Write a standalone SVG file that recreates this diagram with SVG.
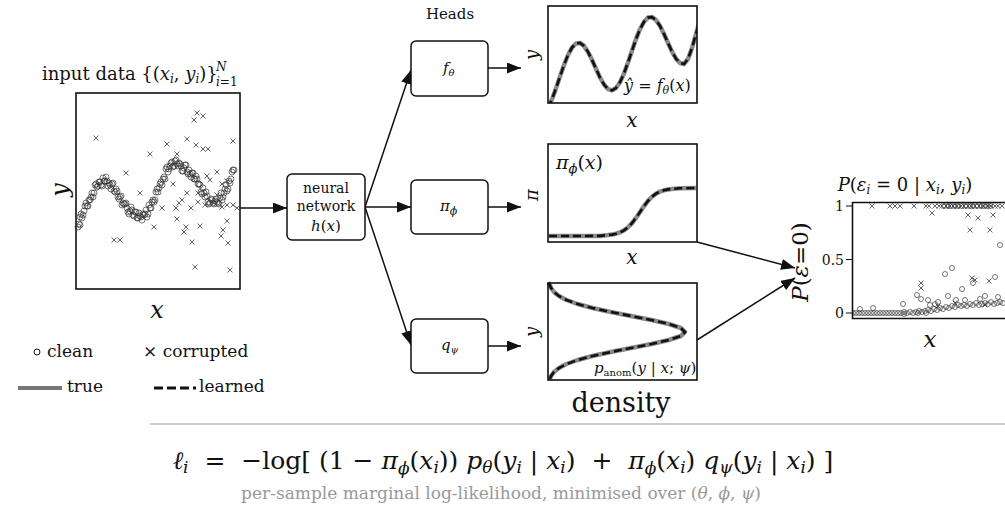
<svg xmlns="http://www.w3.org/2000/svg" width="1005" height="508" viewBox="0 0 1005 508" font-family="DejaVu Serif, serif">
<style>
.t{fill:#111}
.m{font-style:italic}
.box{fill:#fff;stroke:#111;stroke-width:1.5}
.plot{fill:none;stroke:#111;stroke-width:1.6}
.edge{stroke:#111;stroke-width:1.5;fill:none;marker-end:url(#ah)}
.true{stroke:#8a8a8a;stroke-width:4.5;fill:none;stroke-linejoin:round}
.learn{stroke:#111;stroke-width:2.6;stroke-dasharray:8 4;fill:none}
.co{fill:none;stroke:#333;stroke-width:0.9;opacity:0.75}
.cx{stroke:#555;stroke-width:0.9;fill:none}
</style>
<defs>
<marker id="ah" viewBox="0 0 14 11" refX="14" refY="5.5" markerWidth="14" markerHeight="11" markerUnits="userSpaceOnUse" orient="auto"><path d="M0,0 L14,5.5 L0,11 z" fill="#111"/></marker>
<clipPath id="c1"><rect x="548" y="6" width="149" height="97"/></clipPath>
<clipPath id="c4"><rect x="852" y="202" width="160" height="116"/></clipPath>
</defs>

<g id="connectors">
<line class="edge" x1="240" y1="208" x2="287" y2="208"/>
<line class="edge" x1="365" y1="207" x2="411" y2="70"/>
<line class="edge" x1="365" y1="207" x2="411" y2="207"/>
<line class="edge" x1="365" y1="207" x2="411" y2="345"/>
<line class="edge" x1="488" y1="68" x2="521" y2="68"/>
<line class="edge" x1="488" y1="207" x2="521" y2="207"/>
<line class="edge" x1="488" y1="346" x2="521" y2="346"/>
<line class="edge" x1="697" y1="242" x2="795" y2="268"/>
<line class="edge" x1="697" y1="340" x2="795" y2="278"/>
</g>

<g id="input-data">
<text class="t" x="42" y="80" font-size="18">input data {(<tspan class="m">x</tspan><tspan font-size="12" dy="3" class="m">i</tspan><tspan dy="-3">, </tspan><tspan class="m">y</tspan><tspan font-size="12" dy="3" class="m">i</tspan><tspan dy="-3">)}</tspan></text>
<text class="t m" x="216" y="71" font-size="12">N</text>
<text class="t" x="216" y="86" font-size="12"><tspan class="m">i</tspan>=1</text>
<rect class="plot" x="76" y="93" width="164" height="196"/>
<text class="t m" font-size="24" transform="translate(68,190) rotate(-90)" text-anchor="middle">y</text>
<text class="t m" x="157" y="318" font-size="24" text-anchor="middle">x</text>
<path class="co" d="M80,225m-3,0a3,3 0 1 0 6,0a3,3 0 1 0 -6,0M78,227m-3,0a3,3 0 1 0 6,0a3,3 0 1 0 -6,0M80,217m-3,0a3,3 0 1 0 6,0a3,3 0 1 0 -6,0M82,218m-3,0a3,3 0 1 0 6,0a3,3 0 1 0 -6,0M84,211m-3,0a3,3 0 1 0 6,0a3,3 0 1 0 -6,0M86,203m-3,0a3,3 0 1 0 6,0a3,3 0 1 0 -6,0M88,206m-3,0a3,3 0 1 0 6,0a3,3 0 1 0 -6,0M90,200m-3,0a3,3 0 1 0 6,0a3,3 0 1 0 -6,0M92,193m-3,0a3,3 0 1 0 6,0a3,3 0 1 0 -6,0M94,193m-3,0a3,3 0 1 0 6,0a3,3 0 1 0 -6,0M96,184m-3,0a3,3 0 1 0 6,0a3,3 0 1 0 -6,0M98,186m-3,0a3,3 0 1 0 6,0a3,3 0 1 0 -6,0M100,182m-3,0a3,3 0 1 0 6,0a3,3 0 1 0 -6,0M102,186m-3,0a3,3 0 1 0 6,0a3,3 0 1 0 -6,0M104,181m-3,0a3,3 0 1 0 6,0a3,3 0 1 0 -6,0M106,177m-3,0a3,3 0 1 0 6,0a3,3 0 1 0 -6,0M108,186m-3,0a3,3 0 1 0 6,0a3,3 0 1 0 -6,0M110,185m-3,0a3,3 0 1 0 6,0a3,3 0 1 0 -6,0M112,184m-3,0a3,3 0 1 0 6,0a3,3 0 1 0 -6,0M114,191m-3,0a3,3 0 1 0 6,0a3,3 0 1 0 -6,0M116,189m-3,0a3,3 0 1 0 6,0a3,3 0 1 0 -6,0M118,197m-3,0a3,3 0 1 0 6,0a3,3 0 1 0 -6,0M120,197m-3,0a3,3 0 1 0 6,0a3,3 0 1 0 -6,0M122,205m-3,0a3,3 0 1 0 6,0a3,3 0 1 0 -6,0M124,204m-3,0a3,3 0 1 0 6,0a3,3 0 1 0 -6,0M126,203m-3,0a3,3 0 1 0 6,0a3,3 0 1 0 -6,0M128,212m-3,0a3,3 0 1 0 6,0a3,3 0 1 0 -6,0M130,211m-3,0a3,3 0 1 0 6,0a3,3 0 1 0 -6,0M132,210m-3,0a3,3 0 1 0 6,0a3,3 0 1 0 -6,0M134,216m-3,0a3,3 0 1 0 6,0a3,3 0 1 0 -6,0M136,212m-3,0a3,3 0 1 0 6,0a3,3 0 1 0 -6,0M138,218m-3,0a3,3 0 1 0 6,0a3,3 0 1 0 -6,0M140,216m-3,0a3,3 0 1 0 6,0a3,3 0 1 0 -6,0M142,220m-3,0a3,3 0 1 0 6,0a3,3 0 1 0 -6,0M144,215m-3,0a3,3 0 1 0 6,0a3,3 0 1 0 -6,0M146,210m-3,0a3,3 0 1 0 6,0a3,3 0 1 0 -6,0M148,214m-3,0a3,3 0 1 0 6,0a3,3 0 1 0 -6,0M150,208m-3,0a3,3 0 1 0 6,0a3,3 0 1 0 -6,0M152,202m-3,0a3,3 0 1 0 6,0a3,3 0 1 0 -6,0M154,202m-3,0a3,3 0 1 0 6,0a3,3 0 1 0 -6,0M156,192m-3,0a3,3 0 1 0 6,0a3,3 0 1 0 -6,0M158,192m-3,0a3,3 0 1 0 6,0a3,3 0 1 0 -6,0M160,184m-3,0a3,3 0 1 0 6,0a3,3 0 1 0 -6,0M162,185m-3,0a3,3 0 1 0 6,0a3,3 0 1 0 -6,0M164,177m-3,0a3,3 0 1 0 6,0a3,3 0 1 0 -6,0M166,169m-3,0a3,3 0 1 0 6,0a3,3 0 1 0 -6,0M168,172m-3,0a3,3 0 1 0 6,0a3,3 0 1 0 -6,0M170,166m-3,0a3,3 0 1 0 6,0a3,3 0 1 0 -6,0M172,162m-3,0a3,3 0 1 0 6,0a3,3 0 1 0 -6,0M174,166m-3,0a3,3 0 1 0 6,0a3,3 0 1 0 -6,0M176,160m-3,0a3,3 0 1 0 6,0a3,3 0 1 0 -6,0M178,166m-3,0a3,3 0 1 0 6,0a3,3 0 1 0 -6,0M180,164m-3,0a3,3 0 1 0 6,0a3,3 0 1 0 -6,0M182,171m-3,0a3,3 0 1 0 6,0a3,3 0 1 0 -6,0M184,168m-3,0a3,3 0 1 0 6,0a3,3 0 1 0 -6,0M186,165m-3,0a3,3 0 1 0 6,0a3,3 0 1 0 -6,0M188,174m-3,0a3,3 0 1 0 6,0a3,3 0 1 0 -6,0M190,174m-3,0a3,3 0 1 0 6,0a3,3 0 1 0 -6,0M192,173m-3,0a3,3 0 1 0 6,0a3,3 0 1 0 -6,0M194,179m-3,0a3,3 0 1 0 6,0a3,3 0 1 0 -6,0M196,176m-3,0a3,3 0 1 0 6,0a3,3 0 1 0 -6,0M198,184m-3,0a3,3 0 1 0 6,0a3,3 0 1 0 -6,0M200,185m-3,0a3,3 0 1 0 6,0a3,3 0 1 0 -6,0M202,194m-3,0a3,3 0 1 0 6,0a3,3 0 1 0 -6,0M204,193m-3,0a3,3 0 1 0 6,0a3,3 0 1 0 -6,0M206,192m-3,0a3,3 0 1 0 6,0a3,3 0 1 0 -6,0M208,202m-3,0a3,3 0 1 0 6,0a3,3 0 1 0 -6,0M210,203m-3,0a3,3 0 1 0 6,0a3,3 0 1 0 -6,0M212,200m-3,0a3,3 0 1 0 6,0a3,3 0 1 0 -6,0M214,204m-3,0a3,3 0 1 0 6,0a3,3 0 1 0 -6,0M216,199m-3,0a3,3 0 1 0 6,0a3,3 0 1 0 -6,0M218,203m-3,0a3,3 0 1 0 6,0a3,3 0 1 0 -6,0M220,198m-3,0a3,3 0 1 0 6,0a3,3 0 1 0 -6,0M222,200m-3,0a3,3 0 1 0 6,0a3,3 0 1 0 -6,0M224,193m-3,0a3,3 0 1 0 6,0a3,3 0 1 0 -6,0M226,185m-3,0a3,3 0 1 0 6,0a3,3 0 1 0 -6,0M228,189m-3,0a3,3 0 1 0 6,0a3,3 0 1 0 -6,0M230,183m-3,0a3,3 0 1 0 6,0a3,3 0 1 0 -6,0M232,172m-3,0a3,3 0 1 0 6,0a3,3 0 1 0 -6,0M234,170m-3,0a3,3 0 1 0 6,0a3,3 0 1 0 -6,0M79,224m-3,0a3,3 0 1 0 6,0a3,3 0 1 0 -6,0M81,214m-3,0a3,3 0 1 0 6,0a3,3 0 1 0 -6,0M83,215m-3,0a3,3 0 1 0 6,0a3,3 0 1 0 -6,0M85,206m-3,0a3,3 0 1 0 6,0a3,3 0 1 0 -6,0M87,206m-3,0a3,3 0 1 0 6,0a3,3 0 1 0 -6,0M89,200m-3,0a3,3 0 1 0 6,0a3,3 0 1 0 -6,0M91,197m-3,0a3,3 0 1 0 6,0a3,3 0 1 0 -6,0M93,197m-3,0a3,3 0 1 0 6,0a3,3 0 1 0 -6,0M95,185m-3,0a3,3 0 1 0 6,0a3,3 0 1 0 -6,0M97,187m-3,0a3,3 0 1 0 6,0a3,3 0 1 0 -6,0M99,182m-3,0a3,3 0 1 0 6,0a3,3 0 1 0 -6,0M101,185m-3,0a3,3 0 1 0 6,0a3,3 0 1 0 -6,0M103,178m-3,0a3,3 0 1 0 6,0a3,3 0 1 0 -6,0M105,181m-3,0a3,3 0 1 0 6,0a3,3 0 1 0 -6,0M107,181m-3,0a3,3 0 1 0 6,0a3,3 0 1 0 -6,0M109,183m-3,0a3,3 0 1 0 6,0a3,3 0 1 0 -6,0M111,189m-3,0a3,3 0 1 0 6,0a3,3 0 1 0 -6,0M113,183m-3,0a3,3 0 1 0 6,0a3,3 0 1 0 -6,0M115,192m-3,0a3,3 0 1 0 6,0a3,3 0 1 0 -6,0M117,191m-3,0a3,3 0 1 0 6,0a3,3 0 1 0 -6,0M119,199m-3,0a3,3 0 1 0 6,0a3,3 0 1 0 -6,0M121,196m-3,0a3,3 0 1 0 6,0a3,3 0 1 0 -6,0M123,203m-3,0a3,3 0 1 0 6,0a3,3 0 1 0 -6,0M125,204m-3,0a3,3 0 1 0 6,0a3,3 0 1 0 -6,0M127,208m-3,0a3,3 0 1 0 6,0a3,3 0 1 0 -6,0M129,214m-3,0a3,3 0 1 0 6,0a3,3 0 1 0 -6,0M131,207m-3,0a3,3 0 1 0 6,0a3,3 0 1 0 -6,0M133,215m-3,0a3,3 0 1 0 6,0a3,3 0 1 0 -6,0M135,212m-3,0a3,3 0 1 0 6,0a3,3 0 1 0 -6,0M137,218m-3,0a3,3 0 1 0 6,0a3,3 0 1 0 -6,0M139,213m-3,0a3,3 0 1 0 6,0a3,3 0 1 0 -6,0M141,217m-3,0a3,3 0 1 0 6,0a3,3 0 1 0 -6,0M143,214m-3,0a3,3 0 1 0 6,0a3,3 0 1 0 -6,0M145,214m-3,0a3,3 0 1 0 6,0a3,3 0 1 0 -6,0M147,217m-3,0a3,3 0 1 0 6,0a3,3 0 1 0 -6,0M149,205m-3,0a3,3 0 1 0 6,0a3,3 0 1 0 -6,0M151,208m-3,0a3,3 0 1 0 6,0a3,3 0 1 0 -6,0M153,200m-3,0a3,3 0 1 0 6,0a3,3 0 1 0 -6,0M155,200m-3,0a3,3 0 1 0 6,0a3,3 0 1 0 -6,0M157,189m-3,0a3,3 0 1 0 6,0a3,3 0 1 0 -6,0M159,188m-3,0a3,3 0 1 0 6,0a3,3 0 1 0 -6,0M161,182m-3,0a3,3 0 1 0 6,0a3,3 0 1 0 -6,0M163,179m-3,0a3,3 0 1 0 6,0a3,3 0 1 0 -6,0M165,179m-3,0a3,3 0 1 0 6,0a3,3 0 1 0 -6,0M167,167m-3,0a3,3 0 1 0 6,0a3,3 0 1 0 -6,0M169,169m-3,0a3,3 0 1 0 6,0a3,3 0 1 0 -6,0M171,163m-3,0a3,3 0 1 0 6,0a3,3 0 1 0 -6,0M173,167m-3,0a3,3 0 1 0 6,0a3,3 0 1 0 -6,0M175,161m-3,0a3,3 0 1 0 6,0a3,3 0 1 0 -6,0M177,164m-3,0a3,3 0 1 0 6,0a3,3 0 1 0 -6,0M179,163m-3,0a3,3 0 1 0 6,0a3,3 0 1 0 -6,0M181,166m-3,0a3,3 0 1 0 6,0a3,3 0 1 0 -6,0M183,171m-3,0a3,3 0 1 0 6,0a3,3 0 1 0 -6,0M185,165m-3,0a3,3 0 1 0 6,0a3,3 0 1 0 -6,0M187,172m-3,0a3,3 0 1 0 6,0a3,3 0 1 0 -6,0M189,170m-3,0a3,3 0 1 0 6,0a3,3 0 1 0 -6,0M191,177m-3,0a3,3 0 1 0 6,0a3,3 0 1 0 -6,0M193,173m-3,0a3,3 0 1 0 6,0a3,3 0 1 0 -6,0M195,179m-3,0a3,3 0 1 0 6,0a3,3 0 1 0 -6,0M197,179m-3,0a3,3 0 1 0 6,0a3,3 0 1 0 -6,0M199,184m-3,0a3,3 0 1 0 6,0a3,3 0 1 0 -6,0M201,192m-3,0a3,3 0 1 0 6,0a3,3 0 1 0 -6,0M203,188m-3,0a3,3 0 1 0 6,0a3,3 0 1 0 -6,0M205,197m-3,0a3,3 0 1 0 6,0a3,3 0 1 0 -6,0M207,196m-3,0a3,3 0 1 0 6,0a3,3 0 1 0 -6,0M209,204m-3,0a3,3 0 1 0 6,0a3,3 0 1 0 -6,0M211,199m-3,0a3,3 0 1 0 6,0a3,3 0 1 0 -6,0M213,203m-3,0a3,3 0 1 0 6,0a3,3 0 1 0 -6,0M215,201m-3,0a3,3 0 1 0 6,0a3,3 0 1 0 -6,0M217,202m-3,0a3,3 0 1 0 6,0a3,3 0 1 0 -6,0M219,204m-3,0a3,3 0 1 0 6,0a3,3 0 1 0 -6,0M221,193m-3,0a3,3 0 1 0 6,0a3,3 0 1 0 -6,0M223,197m-3,0a3,3 0 1 0 6,0a3,3 0 1 0 -6,0M225,189m-3,0a3,3 0 1 0 6,0a3,3 0 1 0 -6,0M227,191m-3,0a3,3 0 1 0 6,0a3,3 0 1 0 -6,0M229,181m-3,0a3,3 0 1 0 6,0a3,3 0 1 0 -6,0M231,179m-3,0a3,3 0 1 0 6,0a3,3 0 1 0 -6,0M233,170m-3,0a3,3 0 1 0 6,0a3,3 0 1 0 -6,0"/>
<path class="cx" d="M93.5,135.5l5,5m0,-5l-5,5M194.5,110.5l5,5m0,-5l-5,5M191.5,117.5l5,5m0,-5l-5,5M200.5,113.5l5,5m0,-5l-5,5M164.5,141.5l5,5m0,-5l-5,5M147.5,151.5l5,5m0,-5l-5,5M184.5,136.5l5,5m0,-5l-5,5M193.5,142.5l5,5m0,-5l-5,5M200.5,146.5l5,5m0,-5l-5,5M205.5,146.5l5,5m0,-5l-5,5M230.5,138.5l5,5m0,-5l-5,5M174.5,151.5l5,5m0,-5l-5,5M123.5,170.5l5,5m0,-5l-5,5M214.5,169.5l5,5m0,-5l-5,5M204.5,173.5l5,5m0,-5l-5,5M207.5,177.5l5,5m0,-5l-5,5M224.5,178.5l5,5m0,-5l-5,5M219.5,181.5l5,5m0,-5l-5,5M170.5,181.5l5,5m0,-5l-5,5M137.5,190.5l5,5m0,-5l-5,5M184.5,190.5l5,5m0,-5l-5,5M195.5,190.5l5,5m0,-5l-5,5M179.5,197.5l5,5m0,-5l-5,5M176.5,200.5l5,5m0,-5l-5,5M195.5,199.5l5,5m0,-5l-5,5M202.5,202.5l5,5m0,-5l-5,5M214.5,192.5l5,5m0,-5l-5,5M159.5,205.5l5,5m0,-5l-5,5M173.5,205.5l5,5m0,-5l-5,5M188.5,205.5l5,5m0,-5l-5,5M224.5,202.5l5,5m0,-5l-5,5M230.5,202.5l5,5m0,-5l-5,5M234.5,205.5l5,5m0,-5l-5,5M219.5,204.5l5,5m0,-5l-5,5M174.5,216.5l5,5m0,-5l-5,5M183.5,224.5l5,5m0,-5l-5,5M181.5,229.5l5,5m0,-5l-5,5M197.5,223.5l5,5m0,-5l-5,5M224.5,218.5l5,5m0,-5l-5,5M220.5,227.5l5,5m0,-5l-5,5M218.5,233.5l5,5m0,-5l-5,5M151.5,224.5l5,5m0,-5l-5,5M189.5,239.5l5,5m0,-5l-5,5M225.5,240.5l5,5m0,-5l-5,5M111.5,237.5l5,5m0,-5l-5,5M117.5,237.5l5,5m0,-5l-5,5M192.5,264.5l5,5m0,-5l-5,5M227.5,267.5l5,5m0,-5l-5,5"/>
</g>

<g id="legend">
<circle cx="37" cy="352" r="3" fill="none" stroke="#111" stroke-width="1"/>
<text class="t" x="47" y="357" font-size="17">clean</text>
<text class="t" x="143" y="357" font-size="17">× corrupted</text>
<line x1="18" y1="388" x2="62" y2="388" stroke="#777" stroke-width="4"/>
<text class="t" x="67" y="392" font-size="17">true</text>
<line x1="154" y1="388" x2="196" y2="388" stroke="#111" stroke-width="3" stroke-dasharray="9 4"/>
<text class="t" x="199" y="392" font-size="17">learned</text>
</g>

<g id="network">
<rect class="box" x="287" y="174" width="78" height="66" rx="5"/>
<text class="t" x="326" y="193" font-size="14" text-anchor="middle">neural</text>
<text class="t" x="326" y="211" font-size="14" text-anchor="middle">network</text>
<text class="t" x="326" y="231" font-size="15" text-anchor="middle"><tspan class="m">h</tspan>(<tspan class="m">x</tspan>)</text>
</g>

<text class="t" x="450" y="19" font-size="15" text-anchor="middle">Heads</text>

<g id="head-f">
<rect class="box" x="411" y="41" width="77" height="55" rx="5"/>
<text class="t m" x="443" y="73" font-size="15">f<tspan font-size="10" dy="3">θ</tspan></text>
</g>
<g id="head-pi">
<rect class="box" x="411" y="180" width="77" height="54" rx="5"/>
<text class="t m" x="440" y="211" font-size="15">π<tspan font-size="11" dy="4">ϕ</tspan></text>
</g>
<g id="head-q">
<rect class="box" x="411" y="319" width="77" height="54" rx="5"/>
<text class="t m" x="441" y="350" font-size="15">q<tspan font-size="10" dy="3">ψ</tspan></text>
</g>

<g id="plot-f">
<g clip-path="url(#c1)">
<path class="true" d="M548,108 L552,99.2 L556,88.4 L560,76.5 L564,65 L568,55 L572,47.6 L576,43.5 L580,42.9 L584,45.9 L588,51.9 L592,59.8 L596,68.8 L600,77.5 L604,84.5 L608,89.1 L612,90.4 L616,88 L620,82.2 L624,73.4 L628,62.5 L632,50.7 L636,39.1 L640,29.2 L644,21.8 L648,17.6 L652,17.1 L656,20.1 L660,26 L664,34 L668,43 L672,51.6 L676,58.7 L680,63 L684,64 L688,59 L692,48 L696,34 L700,20"/>
<path class="learn" d="M548,108 L552,99.2 L556,88.4 L560,76.5 L564,65 L568,55 L572,47.6 L576,43.5 L580,42.9 L584,45.9 L588,51.9 L592,59.8 L596,68.8 L600,77.5 L604,84.5 L608,89.1 L612,90.4 L616,88 L620,82.2 L624,73.4 L628,62.5 L632,50.7 L636,39.1 L640,29.2 L644,21.8 L648,17.6 L652,17.1 L656,20.1 L660,26 L664,34 L668,43 L672,51.6 L676,58.7 L680,63 L684,64 L688,59 L692,48 L696,34 L700,20"/>
</g>
<rect class="plot" x="548" y="6" width="149" height="97"/>
<text class="t m" font-size="18" transform="translate(538,55) rotate(-90)" text-anchor="middle">y</text>
<text class="t m" x="632" y="127" font-size="20" text-anchor="middle">x</text>
<text class="t m" x="624" y="91" font-size="16">ŷ<tspan font-style="normal"> = </tspan>f<tspan font-size="11" dy="3">θ</tspan><tspan font-style="normal" dy="-3">(</tspan>x<tspan font-style="normal">)</tspan></text>
</g>

<g id="plot-pi">
<path class="true" d="M549,236 L600,235.9 L608,235.1 L612,234.6 L616,233.7 L620,232.4 L624,230.3 L628,227.3 L632,223.1 L636,217.9 L640,212 L644,206.1 L648,200.9 L652,196.7 L656,193.7 L660,191.6 L664,190.3 L668,189.4 L672,188.9 L680,188.3 L696,188"/>
<path class="learn" d="M549,236 L600,235.9 L608,235.1 L612,234.6 L616,233.7 L620,232.4 L624,230.3 L628,227.3 L632,223.1 L636,217.9 L640,212 L644,206.1 L648,200.9 L652,196.7 L656,193.7 L660,191.6 L664,190.3 L668,189.4 L672,188.9 L680,188.3 L696,188"/>
<rect class="plot" x="548" y="144" width="149" height="98"/>
<text class="t m" font-size="18" transform="translate(538,195) rotate(-90)" text-anchor="middle">π</text>
<text class="t m" x="632" y="264" font-size="20" text-anchor="middle">x</text>
<text class="t m" x="556" y="169" font-size="19">π<tspan font-size="13" dy="4">ϕ</tspan><tspan font-style="normal" dy="-4">(</tspan>x<tspan font-style="normal">)</tspan></text>
</g>

<g id="plot-q">
<path class="true" d="M548,283 L549.3,284 L551.1,288 L554,292 L558.9,296 L566.5,300 L577.6,304 L592.5,308 L610.7,312 L631.1,316 L651.4,320 L668.9,324 L680.8,328 L685,332 L680.8,336 L668.9,340 L651.4,344 L631.1,348 L610.7,352 L592.5,356 L577.6,360 L566.5,364 L558.9,368 L554,372 L551.1,376 L549.3,380"/>
<path class="learn" d="M548,283 L549.3,284 L551.1,288 L554,292 L558.9,296 L566.5,300 L577.6,304 L592.5,308 L610.7,312 L631.1,316 L651.4,320 L668.9,324 L680.8,328 L685,332 L680.8,336 L668.9,340 L651.4,344 L631.1,348 L610.7,352 L592.5,356 L577.6,360 L566.5,364 L558.9,368 L554,372 L551.1,376 L549.3,380"/>
<rect class="plot" x="548" y="283" width="149" height="97"/>
<text class="t m" font-size="18" transform="translate(538,332) rotate(-90)" text-anchor="middle">y</text>
<text class="t" x="621" y="412" font-size="27" text-anchor="middle">density</text>
<text class="t m" x="594" y="373" font-size="15">p<tspan font-style="normal" font-size="10" dy="3">anom</tspan><tspan font-style="normal" dy="-3">(</tspan>y<tspan font-style="normal"> | </tspan>x<tspan font-style="normal">; </tspan>ψ<tspan font-style="normal">)</tspan></text>
</g>

<g id="plot-post">
<text class="t" x="905" y="191" font-size="18" text-anchor="middle"><tspan class="m">P</tspan>(<tspan class="m">ε</tspan><tspan class="m" font-size="12" dy="3">i</tspan><tspan dy="-3"> = 0 | </tspan><tspan class="m">x</tspan><tspan class="m" font-size="12" dy="3">i</tspan><tspan dy="-3">, </tspan><tspan class="m">y</tspan><tspan class="m" font-size="12" dy="3">i</tspan><tspan dy="-3">)</tspan></text>
<text class="t" font-size="23" transform="translate(808,262) rotate(-90)" text-anchor="middle"><tspan class="m">P</tspan>(<tspan class="m">ε</tspan>=0)</text>
<text class="t m" x="930" y="347" font-size="23" text-anchor="middle">x</text>
<text class="t" x="844" y="211" font-size="14" text-anchor="end">1</text>
<text class="t" x="844" y="265" font-size="14" text-anchor="end">0.5</text>
<text class="t" x="844" y="318" font-size="14" text-anchor="end">0</text>
<path d="M846,206H852M846,259.5H852M846,313H852" stroke="#111" stroke-width="1.2"/>
<g clip-path="url(#c4)">
<path class="cx" d="M869.5,203.5l5,5m0,-5l-5,5M887.5,203.5l5,5m0,-5l-5,5M892.5,203.5l5,5m0,-5l-5,5M897.5,203.5l5,5m0,-5l-5,5M911.5,203.5l5,5m0,-5l-5,5M923.5,203.5l5,5m0,-5l-5,5M926.5,203.5l5,5m0,-5l-5,5M932.5,203.5l5,5m0,-5l-5,5M936.5,203.5l5,5m0,-5l-5,5M939.5,203.5l5,5m0,-5l-5,5M943.5,203.5l5,5m0,-5l-5,5M947.5,203.5l5,5m0,-5l-5,5M950.5,203.5l5,5m0,-5l-5,5M954.5,203.5l5,5m0,-5l-5,5M958.5,203.5l5,5m0,-5l-5,5M961.5,203.5l5,5m0,-5l-5,5M965.5,203.5l5,5m0,-5l-5,5M968.5,203.5l5,5m0,-5l-5,5M972.5,203.5l5,5m0,-5l-5,5M976.5,203.5l5,5m0,-5l-5,5M980.5,203.5l5,5m0,-5l-5,5M985.5,203.5l5,5m0,-5l-5,5M988.5,203.5l5,5m0,-5l-5,5M992.5,203.5l5,5m0,-5l-5,5M995.5,203.5l5,5m0,-5l-5,5M999.5,203.5l5,5m0,-5l-5,5M929.5,210.5l5,5m0,-5l-5,5M965.5,212.5l5,5m0,-5l-5,5M975.5,215.5l5,5m0,-5l-5,5M990.5,212.5l5,5m0,-5l-5,5M967.5,227.5l5,5m0,-5l-5,5M987.5,227.5l5,5m0,-5l-5,5M918.5,285.5l5,5m0,-5l-5,5M918.5,280.5l5,5m0,-5l-5,5M969.5,275.5l5,5m0,-5l-5,5M972.5,277.5l5,5m0,-5l-5,5M986.5,278.5l5,5m0,-5l-5,5M935.5,303.5l5,5m0,-5l-5,5M952.5,300.5l5,5m0,-5l-5,5M982.5,302.5l5,5m0,-5l-5,5"/>
<path class="co" d="M944,206m-2.5,0a2.5,2.5 0 1 0 5,0a2.5,2.5 0 1 0 -5,0M948,206m-2.5,0a2.5,2.5 0 1 0 5,0a2.5,2.5 0 1 0 -5,0M951,206m-2.5,0a2.5,2.5 0 1 0 5,0a2.5,2.5 0 1 0 -5,0M955,206m-2.5,0a2.5,2.5 0 1 0 5,0a2.5,2.5 0 1 0 -5,0M958,206m-2.5,0a2.5,2.5 0 1 0 5,0a2.5,2.5 0 1 0 -5,0M962,206m-2.5,0a2.5,2.5 0 1 0 5,0a2.5,2.5 0 1 0 -5,0M966,206m-2.5,0a2.5,2.5 0 1 0 5,0a2.5,2.5 0 1 0 -5,0M970,206m-2.5,0a2.5,2.5 0 1 0 5,0a2.5,2.5 0 1 0 -5,0M973,206m-2.5,0a2.5,2.5 0 1 0 5,0a2.5,2.5 0 1 0 -5,0M977,206m-2.5,0a2.5,2.5 0 1 0 5,0a2.5,2.5 0 1 0 -5,0M981,206m-2.5,0a2.5,2.5 0 1 0 5,0a2.5,2.5 0 1 0 -5,0M984,206m-2.5,0a2.5,2.5 0 1 0 5,0a2.5,2.5 0 1 0 -5,0M987,206m-2.5,0a2.5,2.5 0 1 0 5,0a2.5,2.5 0 1 0 -5,0M990,206m-2.5,0a2.5,2.5 0 1 0 5,0a2.5,2.5 0 1 0 -5,0M853,313m-2.5,0a2.5,2.5 0 1 0 5,0a2.5,2.5 0 1 0 -5,0M856,313m-2.5,0a2.5,2.5 0 1 0 5,0a2.5,2.5 0 1 0 -5,0M859,313m-2.5,0a2.5,2.5 0 1 0 5,0a2.5,2.5 0 1 0 -5,0M862,313m-2.5,0a2.5,2.5 0 1 0 5,0a2.5,2.5 0 1 0 -5,0M865,313m-2.5,0a2.5,2.5 0 1 0 5,0a2.5,2.5 0 1 0 -5,0M868,313m-2.5,0a2.5,2.5 0 1 0 5,0a2.5,2.5 0 1 0 -5,0M871,313m-2.5,0a2.5,2.5 0 1 0 5,0a2.5,2.5 0 1 0 -5,0M874,313m-2.5,0a2.5,2.5 0 1 0 5,0a2.5,2.5 0 1 0 -5,0M877,313m-2.5,0a2.5,2.5 0 1 0 5,0a2.5,2.5 0 1 0 -5,0M880,313m-2.5,0a2.5,2.5 0 1 0 5,0a2.5,2.5 0 1 0 -5,0M883,313m-2.5,0a2.5,2.5 0 1 0 5,0a2.5,2.5 0 1 0 -5,0M886,313m-2.5,0a2.5,2.5 0 1 0 5,0a2.5,2.5 0 1 0 -5,0M889,313m-2.5,0a2.5,2.5 0 1 0 5,0a2.5,2.5 0 1 0 -5,0M892,313m-2.5,0a2.5,2.5 0 1 0 5,0a2.5,2.5 0 1 0 -5,0M895,313m-2.5,0a2.5,2.5 0 1 0 5,0a2.5,2.5 0 1 0 -5,0M898,313m-2.5,0a2.5,2.5 0 1 0 5,0a2.5,2.5 0 1 0 -5,0M901,313m-2.5,0a2.5,2.5 0 1 0 5,0a2.5,2.5 0 1 0 -5,0M904,312m-2.5,0a2.5,2.5 0 1 0 5,0a2.5,2.5 0 1 0 -5,0M907,313m-2.5,0a2.5,2.5 0 1 0 5,0a2.5,2.5 0 1 0 -5,0M910,312m-2.5,0a2.5,2.5 0 1 0 5,0a2.5,2.5 0 1 0 -5,0M913,313m-2.5,0a2.5,2.5 0 1 0 5,0a2.5,2.5 0 1 0 -5,0M916,312m-2.5,0a2.5,2.5 0 1 0 5,0a2.5,2.5 0 1 0 -5,0M919,311m-2.5,0a2.5,2.5 0 1 0 5,0a2.5,2.5 0 1 0 -5,0M922,312m-2.5,0a2.5,2.5 0 1 0 5,0a2.5,2.5 0 1 0 -5,0M925,311m-2.5,0a2.5,2.5 0 1 0 5,0a2.5,2.5 0 1 0 -5,0M928,310m-2.5,0a2.5,2.5 0 1 0 5,0a2.5,2.5 0 1 0 -5,0M931,311m-2.5,0a2.5,2.5 0 1 0 5,0a2.5,2.5 0 1 0 -5,0M934,309m-2.5,0a2.5,2.5 0 1 0 5,0a2.5,2.5 0 1 0 -5,0M937,310m-2.5,0a2.5,2.5 0 1 0 5,0a2.5,2.5 0 1 0 -5,0M940,308m-2.5,0a2.5,2.5 0 1 0 5,0a2.5,2.5 0 1 0 -5,0M943,309m-2.5,0a2.5,2.5 0 1 0 5,0a2.5,2.5 0 1 0 -5,0M946,307m-2.5,0a2.5,2.5 0 1 0 5,0a2.5,2.5 0 1 0 -5,0M949,308m-2.5,0a2.5,2.5 0 1 0 5,0a2.5,2.5 0 1 0 -5,0M952,306m-2.5,0a2.5,2.5 0 1 0 5,0a2.5,2.5 0 1 0 -5,0M955,307m-2.5,0a2.5,2.5 0 1 0 5,0a2.5,2.5 0 1 0 -5,0M958,305m-2.5,0a2.5,2.5 0 1 0 5,0a2.5,2.5 0 1 0 -5,0M961,306m-2.5,0a2.5,2.5 0 1 0 5,0a2.5,2.5 0 1 0 -5,0M964,305m-2.5,0a2.5,2.5 0 1 0 5,0a2.5,2.5 0 1 0 -5,0M967,306m-2.5,0a2.5,2.5 0 1 0 5,0a2.5,2.5 0 1 0 -5,0M970,304m-2.5,0a2.5,2.5 0 1 0 5,0a2.5,2.5 0 1 0 -5,0M973,305m-2.5,0a2.5,2.5 0 1 0 5,0a2.5,2.5 0 1 0 -5,0M976,303m-2.5,0a2.5,2.5 0 1 0 5,0a2.5,2.5 0 1 0 -5,0M979,305m-2.5,0a2.5,2.5 0 1 0 5,0a2.5,2.5 0 1 0 -5,0M982,304m-2.5,0a2.5,2.5 0 1 0 5,0a2.5,2.5 0 1 0 -5,0M985,303m-2.5,0a2.5,2.5 0 1 0 5,0a2.5,2.5 0 1 0 -5,0M988,304m-2.5,0a2.5,2.5 0 1 0 5,0a2.5,2.5 0 1 0 -5,0M991,302m-2.5,0a2.5,2.5 0 1 0 5,0a2.5,2.5 0 1 0 -5,0M994,304m-2.5,0a2.5,2.5 0 1 0 5,0a2.5,2.5 0 1 0 -5,0M997,303m-2.5,0a2.5,2.5 0 1 0 5,0a2.5,2.5 0 1 0 -5,0M1000,302m-2.5,0a2.5,2.5 0 1 0 5,0a2.5,2.5 0 1 0 -5,0M1003,303m-2.5,0a2.5,2.5 0 1 0 5,0a2.5,2.5 0 1 0 -5,0M904,314m-2.5,0a2.5,2.5 0 1 0 5,0a2.5,2.5 0 1 0 -5,0M918,313m-2.5,0a2.5,2.5 0 1 0 5,0a2.5,2.5 0 1 0 -5,0M926,313m-2.5,0a2.5,2.5 0 1 0 5,0a2.5,2.5 0 1 0 -5,0M860,309m-2.5,0a2.5,2.5 0 1 0 5,0a2.5,2.5 0 1 0 -5,0M873,308m-2.5,0a2.5,2.5 0 1 0 5,0a2.5,2.5 0 1 0 -5,0M903,304m-2.5,0a2.5,2.5 0 1 0 5,0a2.5,2.5 0 1 0 -5,0M917,295m-2.5,0a2.5,2.5 0 1 0 5,0a2.5,2.5 0 1 0 -5,0M921,299m-2.5,0a2.5,2.5 0 1 0 5,0a2.5,2.5 0 1 0 -5,0M930,305m-2.5,0a2.5,2.5 0 1 0 5,0a2.5,2.5 0 1 0 -5,0M938,302m-2.5,0a2.5,2.5 0 1 0 5,0a2.5,2.5 0 1 0 -5,0M945,274m-2.5,0a2.5,2.5 0 1 0 5,0a2.5,2.5 0 1 0 -5,0M952,268m-2.5,0a2.5,2.5 0 1 0 5,0a2.5,2.5 0 1 0 -5,0M948,296m-2.5,0a2.5,2.5 0 1 0 5,0a2.5,2.5 0 1 0 -5,0M956,300m-2.5,0a2.5,2.5 0 1 0 5,0a2.5,2.5 0 1 0 -5,0M962,289m-2.5,0a2.5,2.5 0 1 0 5,0a2.5,2.5 0 1 0 -5,0M965,300m-2.5,0a2.5,2.5 0 1 0 5,0a2.5,2.5 0 1 0 -5,0M973,283m-2.5,0a2.5,2.5 0 1 0 5,0a2.5,2.5 0 1 0 -5,0M980,299m-2.5,0a2.5,2.5 0 1 0 5,0a2.5,2.5 0 1 0 -5,0M985,296m-2.5,0a2.5,2.5 0 1 0 5,0a2.5,2.5 0 1 0 -5,0M995,277m-2.5,0a2.5,2.5 0 1 0 5,0a2.5,2.5 0 1 0 -5,0M1000,245m-2.5,0a2.5,2.5 0 1 0 5,0a2.5,2.5 0 1 0 -5,0M998,297m-2.5,0a2.5,2.5 0 1 0 5,0a2.5,2.5 0 1 0 -5,0M928,300m-2.5,0a2.5,2.5 0 1 0 5,0a2.5,2.5 0 1 0 -5,0M935,304m-2.5,0a2.5,2.5 0 1 0 5,0a2.5,2.5 0 1 0 -5,0"/>
</g>
<path d="M1006,202.5H852.5V318.5H1006" fill="none" stroke="#111" stroke-width="1.6"/>
</g>

<g id="objective">
<line x1="150" y1="424" x2="1005" y2="424" stroke="#bbb" stroke-width="1.5"/>
<text class="t" x="503" y="469" font-size="25" text-anchor="middle"><tspan class="m">ℓ</tspan><tspan font-size="17" class="m" dy="4">i</tspan><tspan dy="-4" xml:space="preserve">  =  −log[ (1 − </tspan><tspan class="m">π</tspan><tspan font-size="17" class="m" dy="5">ϕ</tspan><tspan dy="-5">(</tspan><tspan class="m">x</tspan><tspan font-size="17" class="m" dy="4">i</tspan><tspan dy="-4">)) </tspan><tspan class="m">p</tspan><tspan font-size="17" class="m" dy="4">θ</tspan><tspan dy="-4">(</tspan><tspan class="m">y</tspan><tspan font-size="17" class="m" dy="4">i</tspan><tspan dy="-4"> | </tspan><tspan class="m">x</tspan><tspan font-size="17" class="m" dy="4">i</tspan><tspan dy="-4" xml:space="preserve">)  +  </tspan><tspan class="m">π</tspan><tspan font-size="17" class="m" dy="5">ϕ</tspan><tspan dy="-5">(</tspan><tspan class="m">x</tspan><tspan font-size="17" class="m" dy="4">i</tspan><tspan dy="-4">) </tspan><tspan class="m">q</tspan><tspan font-size="17" class="m" dy="4">ψ</tspan><tspan dy="-4">(</tspan><tspan class="m">y</tspan><tspan font-size="17" class="m" dy="4">i</tspan><tspan dy="-4"> | </tspan><tspan class="m">x</tspan><tspan font-size="17" class="m" dy="4">i</tspan><tspan dy="-4">) ]</tspan></text>
<text x="501" y="499" font-size="17" text-anchor="middle" fill="#999">per-sample marginal log-likelihood, minimised over (<tspan font-style="italic">θ</tspan>, <tspan font-style="italic">ϕ</tspan>, <tspan font-style="italic">ψ</tspan>)</text>
</g>
</svg>
